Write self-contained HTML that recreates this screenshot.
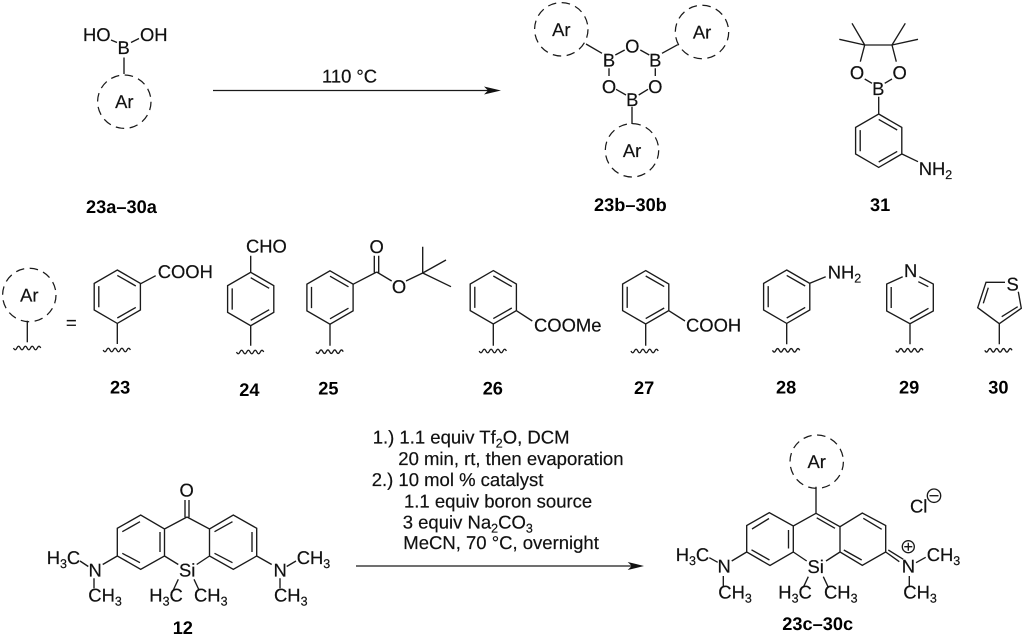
<!DOCTYPE html>
<html><head><meta charset="utf-8"><style>
html,body{margin:0;padding:0;background:#fff}
svg{display:block}
text{font-family:"Liberation Sans",sans-serif;font-size:18.4px;fill:#111;stroke:#111;stroke-width:.2;text-rendering:geometricPrecision}
.b{font-weight:bold;fill:#000;stroke:none;font-size:18.2px}
.c{font-size:18.5px}
.m{text-anchor:middle}
.s{stroke:#1a1a1a;stroke-width:1.35;fill:none}
.d{stroke:#1a1a1a;stroke-width:1.25;fill:none;stroke-dasharray:8.5 5.5}
</style></head><body>
<svg width="1024" height="638" viewBox="0 0 1024 638" xmlns="http://www.w3.org/2000/svg">
<defs>
<path id="ring" class="s" d="M0 -26.7L23.1 -13.3V13.3L0 26.7L-23.1 13.3V-13.3ZM-18.5 -10.6V10.6M0 -21.3L18.5 -10.7M18.5 10.7L0 21.3"/>
<path id="wave" class="s" d="M-13.5 0q1.7 3.5 3.4 0q1.7 -3.5 3.4 0q1.7 3.5 3.4 0q1.7 -3.5 3.4 0q1.7 3.5 3.4 0q1.7 -3.5 3.4 0q1.7 3.5 3.4 0q1.7 -3.5 3.4 0"/>
<g id="ar"><circle class="d" cx="0" cy="0" r="26.7"/><text class="m" x="0" y="6.5">Ar</text></g>
</defs>

<!-- 23a-30a -->
<text x="83" y="41">HO</text><text x="140" y="41">OH</text><text class="m" x="123.7" y="54">B</text>
<path class="s" d="M111 40L117 42.5M131 42.5L139 38.5M124 57.5V74"/>
<use href="#ar" x="124.3" y="101.7"/>
<text class="b" x="86" y="213">23a–30a</text>

<!-- arrow 1 -->
<path class="s" d="M213 90.5H490"/>
<path fill="#111" d="M501 90.5L484 86.5L488 90.5L484 94.5Z"/>
<text x="322" y="82.5">110 °C</text>

<!-- 23b-30b -->
<use href="#ar" x="561.3" y="29.3"/><use href="#ar" x="702" y="32"/><use href="#ar" x="632" y="150.3"/>
<text class="m" x="609" y="66.5">B</text><text class="m" x="655.3" y="66.5">B</text><text class="m" x="632.3" y="52.5">O</text>
<text class="m" x="609" y="92.8">O</text><text class="m" x="655.3" y="92.8">O</text><text class="m" x="632.3" y="105.8">B</text>
<path class="s" d="M586 44L602 53.3M624.7 50L615.3 55M640.3 50L649.3 55M662 53.3L677.7 44.7M609 68.3V76M655.3 68.3V76M616 89.3L626 95M648 89.3L638.7 95M632 106.7V124"/>
<text class="b" x="594" y="211">23b–30b</text>

<!-- 31 -->
<path class="s" d="M864.7 45H892M864.7 45L852 23.3M864.7 45L839.3 39.3M892 45L905.3 23.3M892 45L918 39.3M864.7 45L860.3 61.7M892 45L896.3 61.7M864.7 79L872 83.3M892 79L884.7 83.3M878.7 96.7V114M902 154L918 161.7"/>
<text class="m" x="857" y="79">O</text><text class="m" x="899.7" y="79">O</text><text class="m" x="878.3" y="95">B</text>
<use href="#ring" x="878.7" y="140.7"/>
<text x="918.7" y="175">NH<tspan dy="4" font-size="12.5">2</tspan></text>
<text class="b" x="870" y="211">31</text>

<!-- Ar = -->
<use href="#ar" x="29.3" y="295"/>
<path class="s" d="M27.3 320.7V342.3"/><use href="#wave" x="27" y="348"/>
<text x="66" y="329">=</text>

<!-- 23 -->
<use href="#ring" x="117.3" y="296.7"/><path class="s" d="M117.3 323.3V344M140.7 283.7L155.7 275.7"/><use href="#wave" x="116.7" y="350"/>
<text x="157.7" y="278">COOH</text><text class="b" x="110" y="393.3">23</text>

<!-- 24 -->
<use href="#ring" x="250.7" y="299"/><path class="s" d="M250.7 325.7V345.7M250.7 272.3V255.7"/><use href="#wave" x="250" y="352"/>
<text x="246" y="252.7">CHO</text><text class="b" x="239.3" y="396">24</text>

<!-- 25 -->
<use href="#ring" x="330" y="297.5"/><path class="s" d="M330 324V345.7M353.2 284.2L376.7 272M374.3 255.7V272.5M378.7 255.7V273M376.7 272L391.7 281M406 281L422.7 273M422.7 273V246.7M422.7 273L446 260M422.7 273L451 286.7"/><use href="#wave" x="329.5" y="351.7"/>
<text class="m" x="376.7" y="253">O</text><text class="m" x="399" y="293">O</text><text class="b" x="318.3" y="394.3">25</text>

<!-- 26 -->
<use href="#ring" x="493.3" y="297.3"/><path class="s" d="M493.3 324V345.7M516.4 310.7L532.3 321"/><use href="#wave" x="492.7" y="351"/>
<text x="534" y="331.7">COOMe</text><text class="b" x="482.7" y="394.3">26</text>

<!-- 27 -->
<use href="#ring" x="645.7" y="297.3"/><path class="s" d="M645.7 324V345.7M668.8 310.7L685 321"/><use href="#wave" x="644.5" y="351"/>
<text x="686" y="331.7">COOH</text><text class="b" x="634" y="394">27</text>

<!-- 28 -->
<use href="#ring" x="786.7" y="296.7"/><path class="s" d="M786.7 323.3V344.3M809.8 283.3L825.7 276.7"/><use href="#wave" x="786" y="350.3"/>
<text x="827.7" y="278.3">NH<tspan dy="4" font-size="12.5">2</tspan></text><text class="b" x="776" y="393.3">28</text>

<!-- 29 -->
<path class="s" d="M902.7 276.7L886.7 284V311L910 323.7L933.3 311V284L919.3 276.7M891.2 287V308M918.3 281.7L928.3 286.7M928.5 308.3L910 319M910 323.7V344.3"/>
<text class="m" x="910.7" y="277">N</text><use href="#wave" x="909.3" y="350.3"/><text class="b" x="899" y="393.3">29</text>

<!-- 30 -->
<path class="s" d="M999.3 323.7L977.7 307.7L986 282.3H1005M1018.3 291.7L1021.3 308.3L999.3 323.7M983.3 303.3L988.3 287.7M1001.7 316.7L1017.7 306.7M999.3 323.7V344.3"/>
<text class="m" x="1012.7" y="290.7">S</text><use href="#wave" x="998.3" y="350.3"/><text class="b" x="988.3" y="393.3">30</text>

<!-- conditions -->
<text class="c" x="372.7" y="443.3">1.) 1.1 equiv Tf<tspan dy="4" font-size="12.5">2</tspan><tspan dy="-4">O, DCM</tspan></text>
<text class="c" x="398.3" y="465">20 min, rt, then evaporation</text>
<text class="c" x="371.7" y="486">2.) 10 mol % catalyst</text>
<text class="c" x="404" y="507.3">1.1 equiv boron source</text>
<text class="c" x="402.7" y="528.3">3 equiv Na<tspan dy="4" font-size="12.5">2</tspan><tspan dy="-4">CO</tspan><tspan dy="4" font-size="12.5">3</tspan></text>
<text class="c" x="403.3" y="549">MeCN, 70 °C, overnight</text>
<path class="s" d="M356 566H633"/>
<path fill="#111" d="M644 566L627.7 562L631.7 566L627.7 570Z"/>

<!-- 12 -->
<path class="s" d="M185 500V517.3M189 500V517.3M187 517L164.5 529L140.7 515L117.3 528.3V556L140.7 569.3L164.5 556V529M187 517L209.5 529L233.3 515L256.7 528.3V556L233.3 569.3L209.5 556V529M164.5 556L178.3 564.5M209.5 556L196.7 564.5M122.3 531.7L140 521.7M122.3 553.3L140 562.7M160 532V552M214.5 531.7L232.5 521.7M252 532V552M214.5 553.3L232.5 562.7M178.3 579.3L173.3 590M194 579.3L199 590M117.3 556L102.7 564.5M80 561L88.3 566.5M94 578.3V588.3M256.7 556L271.7 564.5M286.7 566.5L296 561M280 578.3V588.3"/>
<text class="m" x="186.7" y="496.5">O</text>
<text x="179" y="576.7">Si</text>
<text x="149.3" y="601.7">H<tspan dy="4" font-size="12.5">3</tspan><tspan dy="-4">C</tspan></text>
<text x="194" y="601.7">CH<tspan dy="4" font-size="12.5">3</tspan></text>
<text x="88.5" y="576.7">N</text><text x="46.7" y="564">H<tspan dy="4" font-size="12.5">3</tspan><tspan dy="-4">C</tspan></text><text x="88.3" y="601.7">CH<tspan dy="4" font-size="12.5">3</tspan></text>
<text x="273.5" y="576.7">N</text><text x="296.7" y="564">CH<tspan dy="4" font-size="12.5">3</tspan></text><text x="274" y="601.7">CH<tspan dy="4" font-size="12.5">3</tspan></text>
<text class="b" x="172.7" y="634">12</text>

<!-- 23c-30c -->
<use href="#ar" x="816.7" y="461.7"/>
<path class="s" d="M816 486.7V513.3M816 513.3L793.3 526L769.3 512.7L746.7 525.5V552L770 565.5L793.3 552V526M816 513.3L840 526.7L862.3 513L885.7 525.5V552L862.3 565.3L840 552V526.7M816.7 517.8L835 528.3M863.3 518.3L881.7 529.3M843.8 550L861.7 560M752 529L769 518.5M751.5 549.8L769.5 560M788.5 530V548.5M793.3 552L806.7 561M840 552L826 561M808.3 576.7L803.3 587.3M823.3 576.7L828.3 587.3M746.7 552L731.7 561M709.3 557.7L717.7 562.3M723.3 576V586M888.3 550L903.3 559.3M885.7 552L899.3 561.7M916 562.7L925.7 557.3M909.3 576V586"/>
<text x="807.5" y="573">Si</text>
<text x="778.3" y="598.3">H<tspan dy="4" font-size="12.5">3</tspan><tspan dy="-4">C</tspan></text><text x="824" y="598.3">CH<tspan dy="4" font-size="12.5">3</tspan></text>
<text x="717.5" y="572.7">N</text><text x="675.7" y="561">H<tspan dy="4" font-size="12.5">3</tspan><tspan dy="-4">C</tspan></text><text x="718.3" y="598.3">CH<tspan dy="4" font-size="12.5">3</tspan></text>
<text x="901.8" y="572.7">N</text><text x="926.7" y="561">CH<tspan dy="4" font-size="12.5">3</tspan></text><text x="903.3" y="598.3">CH<tspan dy="4" font-size="12.5">3</tspan></text>
<circle class="s" cx="908.3" cy="546.7" r="6"/><path class="s" d="M904.3 546.7H912.3M908.3 542.7V550.7"/>
<text x="910" y="512.7">Cl</text>
<circle class="s" cx="934" cy="495.7" r="6.7"/><path class="s" d="M929.5 495.7H938.5"/>
<text class="b" x="782.3" y="630">23c–30c</text>
</svg>
</body></html>
